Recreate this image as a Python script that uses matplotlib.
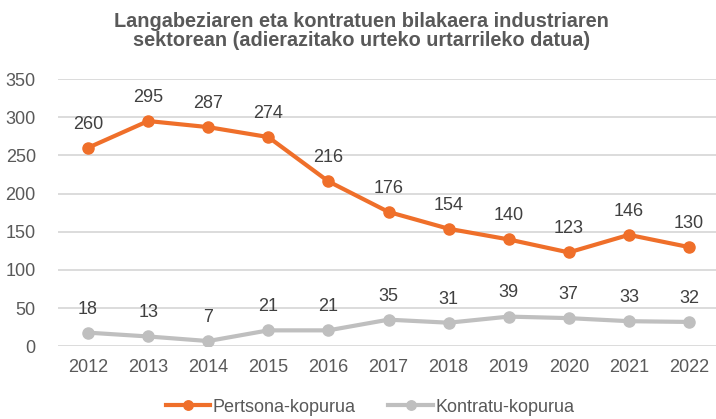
import matplotlib.pyplot as plt

# datos del grafico
urteak = ["2012", "2013", "2014", "2015", "2016", "2017", "2018", "2019", "2020", "2021", "2022"]
pertsonak = [260, 295, 287, 274, 216, 176, 154, 140, 123, 146, 130]
kontratuak = [18, 13, 7, 21, 21, 35, 31, 39, 37, 33, 32]

naranja = "#EF6F2A"
gris = "#BFBFBF"
texto = "#595959"

plt.rcParams["font.family"] = ["Liberation Sans", "DejaVu Sans"]

fig = plt.figure(figsize=(7.16, 4.19), dpi=100)
ax = fig.add_axes([58 / 716, 1 - 346.4 / 419, 661 / 716, (346.4 - 79) / 419])

x = list(range(len(urteak)))
ax.plot(x, pertsonak, color=naranja, lw=3, marker="o", ms=8, label="Pertsona-kopurua")
ax.plot(x, kontratuak, color=gris, lw=3, marker="o", ms=8, label="Kontratu-kopurua")

# etiquetas de datos
for serie in (pertsonak, kontratuak):
    for i, v in enumerate(serie):
        ax.annotate(str(v), (i, v), xytext=(0, 17), textcoords="offset points",
                    ha="center", va="center", fontsize=13, color="#404040")

ax.set_xlim(-0.5, len(urteak) - 0.5)
ax.set_ylim(0, 350)
ax.set_yticks(range(0, 351, 50))
ax.set_xticks(x)
ax.set_xticklabels(urteak)
ax.tick_params(length=0, labelsize=13, labelcolor=texto)
ax.tick_params(axis="y", pad=16)
ax.tick_params(axis="x", pad=9)
ax.grid(axis="y", color="#D9D9D9", lw=1.3)
ax.set_axisbelow(True)
for s in ax.spines.values():
    s.set_visible(False)

fig.suptitle("Langabeziaren eta kontratuen bilakaera industriaren\nsektorean (adierazitako urteko urtarrileko datua)",
             x=0.505, y=0.972, fontsize=14.3, fontweight="bold", color=texto, linespacing=1.05)

fig.legend(loc="center", bbox_to_anchor=(0.517, 1 - 407 / 419), ncol=2, frameon=False,
           fontsize=13, labelcolor=texto, handlelength=2.45, handletextpad=0.15,
           columnspacing=1.8, markerscale=0.85)

plt.savefig("out.png", dpi=100)
